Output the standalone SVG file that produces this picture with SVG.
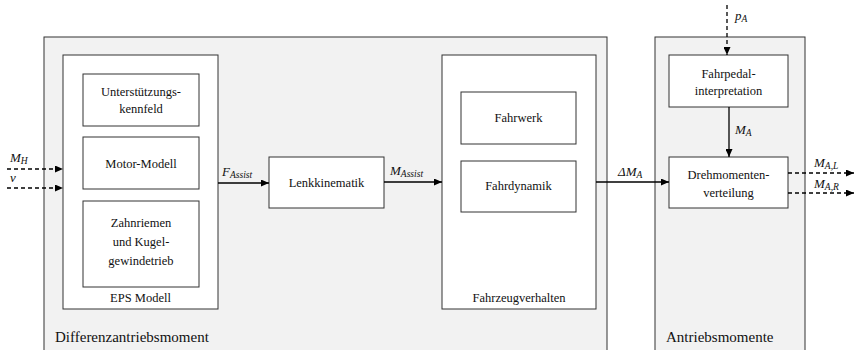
<svg xmlns="http://www.w3.org/2000/svg" width="858" height="350" viewBox="0 0 858 350" font-family="Liberation Serif, Noto Serif, DejaVu Serif, Times New Roman, serif">
<defs>
<marker id="ah" markerWidth="8" markerHeight="7" refX="8" refY="3.5" orient="auto" markerUnits="userSpaceOnUse">
<path d="M0,0 L8,3.5 L0,7 Z" fill="#000"/>
</marker>
</defs>
<style>
.grp{fill:#f2f2f2;stroke:#333;stroke-width:1}
.box{fill:#fff;stroke:#333;stroke-width:1}
.t{font-size:12.5px;fill:#111;text-anchor:middle}
.big{font-size:15px;fill:#111}
.m{font-style:italic;font-size:13px;fill:#111}
.s{font-size:9.5px}
.ln{stroke:#000;stroke-width:1.3;fill:none}
.dl{stroke:#000;stroke-width:1.3;fill:none;stroke-dasharray:4,3}
</style>
<g id="differenzantriebsmoment">
<rect class="grp" x="44" y="37" width="563" height="320"/>
<text class="big" x="55" y="342" font-family="Liberation Serif, serif">Differenzantriebsmoment</text>
</g>
<g id="antriebsmomente">
<rect class="grp" x="655" y="37" width="150" height="320"/>
<text class="big" x="666" y="342">Antriebsmomente</text>
</g>
<g id="eps-modell">
<rect class="box" x="63" y="55" width="155" height="254"/>
<text class="t" x="140.5" y="302">EPS Modell</text>
</g>
<g id="unterstuetzungskennfeld">
<rect class="box" x="83" y="74" width="116" height="52"/>
<text class="t" x="141" y="96">Unterstützungs-</text>
<text class="t" x="141" y="113">kennfeld</text>
</g>
<g id="motor-modell">
<rect class="box" x="83" y="137" width="116" height="52"/>
<text class="t" x="141" y="167.5">Motor-Modell</text>
</g>
<g id="zahnriemen">
<rect class="box" x="83" y="201" width="116" height="86"/>
<text class="t" x="141" y="227">Zahnriemen</text>
<text class="t" x="141" y="246">und Kugel-</text>
<text class="t" x="141" y="265">gewindetrieb</text>
</g>
<g id="lenkkinematik">
<rect class="box" x="269" y="157" width="115" height="51"/>
<text class="t" x="326.5" y="187">Lenkkinematik</text>
</g>
<g id="fahrzeugverhalten">
<rect class="box" x="442" y="55" width="154" height="254"/>
<text class="t" x="519" y="302">Fahrzeugverhalten</text>
</g>
<g id="fahrwerk">
<rect class="box" x="461" y="92" width="115" height="52"/>
<text class="t" x="518.5" y="122">Fahrwerk</text>
</g>
<g id="fahrdynamik">
<rect class="box" x="461" y="161" width="115" height="51"/>
<text class="t" x="518.5" y="190">Fahrdynamik</text>
</g>
<g id="fahrpedalinterpretation">
<rect class="box" x="669" y="55" width="119" height="52"/>
<text class="t" x="728.5" y="78">Fahrpedal-</text>
<text class="t" x="728.5" y="95">interpretation</text>
</g>
<g id="drehmomentenverteilung">
<rect class="box" x="669" y="157" width="119" height="51"/>
<text class="t" x="728.5" y="179">Drehmomenten-</text>
<text class="t" x="728.5" y="197">verteilung</text>
</g>
<g id="connectors">
<line class="dl" x1="7" y1="169" x2="63" y2="169" marker-end="url(#ah)"/>
<line class="dl" x1="7" y1="188" x2="63" y2="188" marker-end="url(#ah)"/>
<line class="ln" x1="218" y1="183" x2="269" y2="183" marker-end="url(#ah)"/>
<line class="ln" x1="384" y1="182" x2="442" y2="182" marker-end="url(#ah)"/>
<line class="ln" x1="596" y1="182" x2="669" y2="182" marker-end="url(#ah)"/>
<line class="ln" x1="729" y1="107" x2="729" y2="157" marker-end="url(#ah)"/>
<line class="dl" x1="727" y1="5" x2="727" y2="55" marker-end="url(#ah)"/>
<line class="dl" x1="788" y1="173" x2="854" y2="173" marker-end="url(#ah)"/>
<line class="dl" x1="788" y1="193" x2="854" y2="193" marker-end="url(#ah)"/>
<text class="m" x="10" y="162">M<tspan class="s" dy="2">H</tspan></text>
<text class="m" x="10" y="182">v</text>
<text class="m" x="222" y="176">F<tspan class="s" dy="2">Assist</tspan></text>
<text class="m" x="390" y="175">M<tspan class="s" dy="2">Assist</tspan></text>
<text class="m" x="618" y="176">ΔM<tspan class="s" dy="2">A</tspan></text>
<text class="m" x="735" y="134">M<tspan class="s" dy="2">A</tspan></text>
<text class="m" x="735" y="20">p<tspan class="s" dy="2">A</tspan></text>
<text class="m" x="814" y="167">M<tspan class="s" dy="2">A,L</tspan></text>
<text class="m" x="814" y="188">M<tspan class="s" dy="2">A,R</tspan></text>
</g>
</svg>
